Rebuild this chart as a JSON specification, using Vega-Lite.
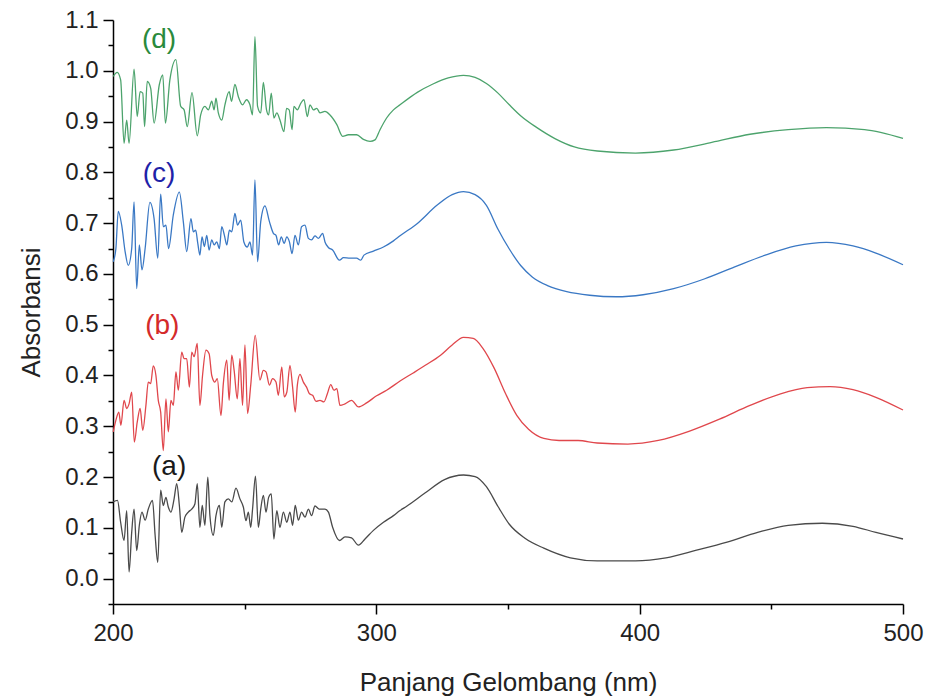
{
  "$schema": "https://vega.github.io/schema/vega-lite/v6.json",
  "width": 790,
  "height": 584,
  "autosize": {"type": "none"},
  "padding": {"left": 113, "top": 20, "right": 25, "bottom": 94},
  "background": "white",
  "config": {
    "view": {"stroke": null},
    "font": "Liberation Sans",
    "axis": {
      "domainColor": "#000000",
      "tickColor": "#000000",
      "domainWidth": 1.5,
      "tickWidth": 1.5,
      "labelColor": "#222222",
      "titleColor": "#222222",
      "labelFont": "Liberation Sans",
      "titleFont": "Liberation Sans",
      "labelFontSize": 24,
      "titleFontSize": 26,
      "titleFontWeight": "normal",
      "grid": false
    }
  },
  "datasets": {
    "spectra": [
      {"s":"a","x":200.1,"y":0.151},{"s":"a","x":201.7,"y":0.154},{"s":"a","x":202.9,"y":0.111},{"s":"a","x":204.2,"y":0.075},{"s":"a","x":205.2,"y":0.134},{"s":"a","x":206.1,"y":0.013},{"s":"a","x":207.1,"y":0.091},{"s":"a","x":208.0,"y":0.137},{"s":"a","x":209.0,"y":0.055},{"s":"a","x":210.0,"y":0.105},{"s":"a","x":211.0,"y":0.131},{"s":"a","x":212.2,"y":0.115},{"s":"a","x":213.4,"y":0.137},{"s":"a","x":215.0,"y":0.154},{"s":"a","x":216.0,"y":0.085},{"s":"a","x":217.0,"y":0.032},{"s":"a","x":218.1,"y":0.174},{"s":"a","x":219.1,"y":0.144},{"s":"a","x":220.1,"y":0.160},{"s":"a","x":221.0,"y":0.141},{"s":"a","x":222.0,"y":0.131},{"s":"a","x":223.2,"y":0.157},{"s":"a","x":224.2,"y":0.187},{"s":"a","x":225.2,"y":0.144},{"s":"a","x":226.1,"y":0.091},{"s":"a","x":227.3,"y":0.121},{"s":"a","x":228.6,"y":0.131},{"s":"a","x":229.9,"y":0.137},{"s":"a","x":231.1,"y":0.147},{"s":"a","x":232.0,"y":0.187},{"s":"a","x":233.0,"y":0.101},{"s":"a","x":233.9,"y":0.144},{"s":"a","x":234.9,"y":0.105},{"s":"a","x":236.0,"y":0.200},{"s":"a","x":236.8,"y":0.124},{"s":"a","x":238.1,"y":0.085},{"s":"a","x":239.1,"y":0.124},{"s":"a","x":240.4,"y":0.144},{"s":"a","x":241.3,"y":0.101},{"s":"a","x":242.5,"y":0.151},{"s":"a","x":243.8,"y":0.157},{"s":"a","x":245.1,"y":0.151},{"s":"a","x":246.7,"y":0.178},{"s":"a","x":248.2,"y":0.157},{"s":"a","x":249.5,"y":0.141},{"s":"a","x":250.5,"y":0.114},{"s":"a","x":251.4,"y":0.131},{"s":"a","x":252.3,"y":0.101},{"s":"a","x":253.0,"y":0.137},{"s":"a","x":254.1,"y":0.202},{"s":"a","x":255.2,"y":0.101},{"s":"a","x":256.1,"y":0.137},{"s":"a","x":257.1,"y":0.164},{"s":"a","x":258.1,"y":0.131},{"s":"a","x":259.1,"y":0.160},{"s":"a","x":260.1,"y":0.167},{"s":"a","x":261.1,"y":0.078},{"s":"a","x":262.2,"y":0.134},{"s":"a","x":263.4,"y":0.101},{"s":"a","x":264.7,"y":0.131},{"s":"a","x":266.0,"y":0.111},{"s":"a","x":267.2,"y":0.131},{"s":"a","x":268.2,"y":0.105},{"s":"a","x":269.2,"y":0.144},{"s":"a","x":270.4,"y":0.115},{"s":"a","x":271.6,"y":0.131},{"s":"a","x":272.9,"y":0.121},{"s":"a","x":274.2,"y":0.137},{"s":"a","x":275.4,"y":0.124},{"s":"a","x":276.7,"y":0.143},{"s":"a","x":278.3,"y":0.137},{"s":"a","x":280.5,"y":0.137},{"s":"a","x":281.8,"y":0.131},{"s":"a","x":283.4,"y":0.101},{"s":"a","x":286.0,"y":0.075},{"s":"a","x":288.1,"y":0.082},{"s":"a","x":290.6,"y":0.080},{"s":"a","x":293.2,"y":0.066},{"s":"a","x":295.7,"y":0.078},{"s":"a","x":298.9,"y":0.095},{"s":"a","x":302.7,"y":0.111},{"s":"a","x":306.5,"y":0.124},{"s":"a","x":309.0,"y":0.134},{"s":"a","x":311.4,"y":0.142},{"s":"a","x":318.6,"y":0.169},{"s":"a","x":325.9,"y":0.195},{"s":"a","x":333.1,"y":0.204},{"s":"a","x":337.5,"y":0.201},{"s":"a","x":341.8,"y":0.181},{"s":"a","x":346.2,"y":0.142},{"s":"a","x":350.5,"y":0.107},{"s":"a","x":356.3,"y":0.080},{"s":"a","x":363.6,"y":0.060},{"s":"a","x":373.7,"y":0.041},{"s":"a","x":383.9,"y":0.035},{"s":"a","x":398.4,"y":0.035},{"s":"a","x":410.0,"y":0.041},{"s":"a","x":421.6,"y":0.056},{"s":"a","x":433.2,"y":0.072},{"s":"a","x":444.8,"y":0.091},{"s":"a","x":456.4,"y":0.105},{"s":"a","x":469.4,"y":0.109},{"s":"a","x":481.0,"y":0.103},{"s":"a","x":489.7,"y":0.091},{"s":"a","x":500.0,"y":0.078},
      {"s":"b","x":200.1,"y":0.289},{"s":"b","x":201.1,"y":0.312},{"s":"b","x":202.2,"y":0.328},{"s":"b","x":203.0,"y":0.302},{"s":"b","x":204.2,"y":0.351},{"s":"b","x":205.2,"y":0.335},{"s":"b","x":206.1,"y":0.344},{"s":"b","x":207.1,"y":0.367},{"s":"b","x":208.1,"y":0.269},{"s":"b","x":209.2,"y":0.308},{"s":"b","x":210.3,"y":0.335},{"s":"b","x":211.3,"y":0.292},{"s":"b","x":212.5,"y":0.341},{"s":"b","x":213.4,"y":0.387},{"s":"b","x":214.3,"y":0.384},{"s":"b","x":215.3,"y":0.419},{"s":"b","x":216.3,"y":0.400},{"s":"b","x":217.2,"y":0.351},{"s":"b","x":218.1,"y":0.328},{"s":"b","x":219.1,"y":0.252},{"s":"b","x":220.1,"y":0.354},{"s":"b","x":221.0,"y":0.289},{"s":"b","x":222.0,"y":0.351},{"s":"b","x":222.9,"y":0.341},{"s":"b","x":223.9,"y":0.407},{"s":"b","x":224.8,"y":0.371},{"s":"b","x":226.1,"y":0.446},{"s":"b","x":227.0,"y":0.433},{"s":"b","x":228.0,"y":0.433},{"s":"b","x":229.0,"y":0.377},{"s":"b","x":229.9,"y":0.446},{"s":"b","x":230.8,"y":0.437},{"s":"b","x":232.0,"y":0.463},{"s":"b","x":233.0,"y":0.341},{"s":"b","x":234.0,"y":0.400},{"s":"b","x":235.3,"y":0.450},{"s":"b","x":236.5,"y":0.443},{"s":"b","x":237.5,"y":0.400},{"s":"b","x":238.7,"y":0.387},{"s":"b","x":239.6,"y":0.394},{"s":"b","x":241.0,"y":0.321},{"s":"b","x":241.9,"y":0.384},{"s":"b","x":243.2,"y":0.430},{"s":"b","x":244.1,"y":0.351},{"s":"b","x":245.1,"y":0.440},{"s":"b","x":246.0,"y":0.410},{"s":"b","x":247.2,"y":0.354},{"s":"b","x":248.2,"y":0.433},{"s":"b","x":249.2,"y":0.341},{"s":"b","x":250.1,"y":0.460},{"s":"b","x":251.1,"y":0.325},{"s":"b","x":252.3,"y":0.381},{"s":"b","x":254.0,"y":0.479},{"s":"b","x":255.8,"y":0.391},{"s":"b","x":257.1,"y":0.410},{"s":"b","x":258.1,"y":0.407},{"s":"b","x":259.4,"y":0.381},{"s":"b","x":260.6,"y":0.394},{"s":"b","x":261.9,"y":0.387},{"s":"b","x":262.8,"y":0.361},{"s":"b","x":264.1,"y":0.417},{"s":"b","x":265.0,"y":0.358},{"s":"b","x":266.0,"y":0.367},{"s":"b","x":267.2,"y":0.420},{"s":"b","x":268.2,"y":0.377},{"s":"b","x":269.2,"y":0.328},{"s":"b","x":270.0,"y":0.381},{"s":"b","x":271.0,"y":0.402},{"s":"b","x":272.3,"y":0.387},{"s":"b","x":273.5,"y":0.377},{"s":"b","x":274.6,"y":0.364},{"s":"b","x":275.8,"y":0.361},{"s":"b","x":277.1,"y":0.349},{"s":"b","x":278.6,"y":0.351},{"s":"b","x":280.1,"y":0.348},{"s":"b","x":281.4,"y":0.364},{"s":"b","x":282.7,"y":0.382},{"s":"b","x":283.9,"y":0.371},{"s":"b","x":285.0,"y":0.374},{"s":"b","x":286.2,"y":0.341},{"s":"b","x":288.1,"y":0.344},{"s":"b","x":290.6,"y":0.351},{"s":"b","x":293.2,"y":0.338},{"s":"b","x":296.3,"y":0.346},{"s":"b","x":300.1,"y":0.360},{"s":"b","x":303.9,"y":0.371},{"s":"b","x":309.0,"y":0.389},{"s":"b","x":314.0,"y":0.405},{"s":"b","x":318.6,"y":0.420},{"s":"b","x":324.4,"y":0.440},{"s":"b","x":328.8,"y":0.460},{"s":"b","x":333.1,"y":0.475},{"s":"b","x":336.8,"y":0.473},{"s":"b","x":340.4,"y":0.454},{"s":"b","x":344.7,"y":0.415},{"s":"b","x":349.1,"y":0.364},{"s":"b","x":353.4,"y":0.321},{"s":"b","x":357.8,"y":0.294},{"s":"b","x":363.6,"y":0.276},{"s":"b","x":369.4,"y":0.272},{"s":"b","x":376.6,"y":0.272},{"s":"b","x":383.9,"y":0.267},{"s":"b","x":395.5,"y":0.265},{"s":"b","x":407.1,"y":0.272},{"s":"b","x":418.7,"y":0.290},{"s":"b","x":430.3,"y":0.314},{"s":"b","x":441.9,"y":0.341},{"s":"b","x":453.5,"y":0.364},{"s":"b","x":463.6,"y":0.376},{"s":"b","x":472.3,"y":0.378},{"s":"b","x":481.0,"y":0.372},{"s":"b","x":489.7,"y":0.357},{"s":"b","x":500.0,"y":0.332},
      {"s":"c","x":200.1,"y":0.624},{"s":"c","x":201.1,"y":0.650},{"s":"c","x":202.0,"y":0.723},{"s":"c","x":203.3,"y":0.696},{"s":"c","x":204.6,"y":0.644},{"s":"c","x":205.8,"y":0.617},{"s":"c","x":207.1,"y":0.650},{"s":"c","x":208.0,"y":0.742},{"s":"c","x":209.0,"y":0.571},{"s":"c","x":210.0,"y":0.657},{"s":"c","x":211.0,"y":0.608},{"s":"c","x":212.2,"y":0.650},{"s":"c","x":214.0,"y":0.741},{"s":"c","x":215.6,"y":0.709},{"s":"c","x":217.0,"y":0.631},{"s":"c","x":218.1,"y":0.757},{"s":"c","x":219.1,"y":0.693},{"s":"c","x":220.1,"y":0.696},{"s":"c","x":221.1,"y":0.650},{"s":"c","x":222.9,"y":0.716},{"s":"c","x":225.2,"y":0.761},{"s":"c","x":226.7,"y":0.703},{"s":"c","x":228.0,"y":0.644},{"s":"c","x":229.6,"y":0.709},{"s":"c","x":230.5,"y":0.683},{"s":"c","x":231.4,"y":0.686},{"s":"c","x":232.2,"y":0.660},{"s":"c","x":233.0,"y":0.637},{"s":"c","x":233.8,"y":0.673},{"s":"c","x":234.7,"y":0.654},{"s":"c","x":235.6,"y":0.676},{"s":"c","x":236.5,"y":0.647},{"s":"c","x":237.5,"y":0.667},{"s":"c","x":238.4,"y":0.657},{"s":"c","x":239.4,"y":0.663},{"s":"c","x":240.4,"y":0.650},{"s":"c","x":241.3,"y":0.693},{"s":"c","x":242.3,"y":0.676},{"s":"c","x":243.2,"y":0.657},{"s":"c","x":244.2,"y":0.686},{"s":"c","x":245.1,"y":0.683},{"s":"c","x":246.3,"y":0.719},{"s":"c","x":247.3,"y":0.696},{"s":"c","x":248.5,"y":0.706},{"s":"c","x":249.7,"y":0.663},{"s":"c","x":251.0,"y":0.653},{"s":"c","x":252.0,"y":0.663},{"s":"c","x":253.0,"y":0.637},{"s":"c","x":253.9,"y":0.785},{"s":"c","x":254.9,"y":0.624},{"s":"c","x":256.1,"y":0.703},{"s":"c","x":257.7,"y":0.734},{"s":"c","x":259.4,"y":0.703},{"s":"c","x":260.9,"y":0.680},{"s":"c","x":261.9,"y":0.676},{"s":"c","x":262.9,"y":0.657},{"s":"c","x":263.9,"y":0.673},{"s":"c","x":265.0,"y":0.660},{"s":"c","x":266.0,"y":0.673},{"s":"c","x":267.0,"y":0.663},{"s":"c","x":268.0,"y":0.640},{"s":"c","x":269.1,"y":0.676},{"s":"c","x":270.4,"y":0.657},{"s":"c","x":271.6,"y":0.693},{"s":"c","x":272.9,"y":0.696},{"s":"c","x":274.2,"y":0.670},{"s":"c","x":275.4,"y":0.667},{"s":"c","x":276.7,"y":0.675},{"s":"c","x":278.0,"y":0.670},{"s":"c","x":279.6,"y":0.680},{"s":"c","x":280.5,"y":0.663},{"s":"c","x":281.8,"y":0.652},{"s":"c","x":283.4,"y":0.647},{"s":"c","x":286.0,"y":0.627},{"s":"c","x":287.5,"y":0.632},{"s":"c","x":290.0,"y":0.631},{"s":"c","x":292.5,"y":0.631},{"s":"c","x":294.1,"y":0.627},{"s":"c","x":295.3,"y":0.637},{"s":"c","x":298.9,"y":0.645},{"s":"c","x":302.7,"y":0.653},{"s":"c","x":306.5,"y":0.665},{"s":"c","x":309.0,"y":0.675},{"s":"c","x":315.7,"y":0.700},{"s":"c","x":323.0,"y":0.735},{"s":"c","x":328.8,"y":0.756},{"s":"c","x":333.1,"y":0.762},{"s":"c","x":337.5,"y":0.756},{"s":"c","x":341.8,"y":0.735},{"s":"c","x":346.2,"y":0.688},{"s":"c","x":350.5,"y":0.649},{"s":"c","x":354.9,"y":0.616},{"s":"c","x":359.2,"y":0.594},{"s":"c","x":365.0,"y":0.577},{"s":"c","x":372.3,"y":0.565},{"s":"c","x":381.0,"y":0.558},{"s":"c","x":391.1,"y":0.555},{"s":"c","x":401.3,"y":0.559},{"s":"c","x":412.9,"y":0.571},{"s":"c","x":424.5,"y":0.590},{"s":"c","x":436.1,"y":0.614},{"s":"c","x":447.7,"y":0.637},{"s":"c","x":459.3,"y":0.655},{"s":"c","x":470.9,"y":0.662},{"s":"c","x":481.0,"y":0.655},{"s":"c","x":489.7,"y":0.641},{"s":"c","x":500.0,"y":0.618},
      {"s":"d","x":200.1,"y":0.989},{"s":"d","x":201.6,"y":0.997},{"s":"d","x":202.9,"y":0.982},{"s":"d","x":204.2,"y":0.857},{"s":"d","x":205.2,"y":0.903},{"s":"d","x":206.1,"y":0.857},{"s":"d","x":208.0,"y":1.003},{"s":"d","x":209.2,"y":0.910},{"s":"d","x":210.3,"y":0.959},{"s":"d","x":211.3,"y":0.956},{"s":"d","x":212.0,"y":0.890},{"s":"d","x":213.0,"y":0.979},{"s":"d","x":214.3,"y":0.966},{"s":"d","x":215.6,"y":0.897},{"s":"d","x":217.6,"y":0.973},{"s":"d","x":218.9,"y":0.992},{"s":"d","x":219.9,"y":0.897},{"s":"d","x":221.6,"y":0.982},{"s":"d","x":223.9,"y":1.022},{"s":"d","x":225.7,"y":0.930},{"s":"d","x":227.0,"y":0.923},{"s":"d","x":228.2,"y":0.890},{"s":"d","x":230.0,"y":0.957},{"s":"d","x":232.0,"y":0.872},{"s":"d","x":233.3,"y":0.913},{"s":"d","x":234.9,"y":0.930},{"s":"d","x":236.2,"y":0.923},{"s":"d","x":237.5,"y":0.940},{"s":"d","x":238.4,"y":0.923},{"s":"d","x":239.1,"y":0.946},{"s":"d","x":240.0,"y":0.917},{"s":"d","x":241.3,"y":0.903},{"s":"d","x":242.5,"y":0.933},{"s":"d","x":244.1,"y":0.959},{"s":"d","x":245.0,"y":0.940},{"s":"d","x":246.3,"y":0.973},{"s":"d","x":247.6,"y":0.949},{"s":"d","x":249.2,"y":0.933},{"s":"d","x":250.7,"y":0.943},{"s":"d","x":252.0,"y":0.933},{"s":"d","x":253.0,"y":0.913},{"s":"d","x":253.9,"y":1.067},{"s":"d","x":254.9,"y":0.930},{"s":"d","x":256.1,"y":0.917},{"s":"d","x":257.1,"y":0.977},{"s":"d","x":258.3,"y":0.923},{"s":"d","x":259.1,"y":0.913},{"s":"d","x":260.1,"y":0.956},{"s":"d","x":261.1,"y":0.907},{"s":"d","x":262.2,"y":0.917},{"s":"d","x":263.4,"y":0.903},{"s":"d","x":264.9,"y":0.880},{"s":"d","x":265.9,"y":0.926},{"s":"d","x":266.9,"y":0.923},{"s":"d","x":268.0,"y":0.884},{"s":"d","x":268.7,"y":0.930},{"s":"d","x":270.0,"y":0.923},{"s":"d","x":271.3,"y":0.936},{"s":"d","x":272.5,"y":0.943},{"s":"d","x":273.8,"y":0.910},{"s":"d","x":274.8,"y":0.933},{"s":"d","x":276.1,"y":0.923},{"s":"d","x":277.4,"y":0.926},{"s":"d","x":278.6,"y":0.917},{"s":"d","x":280.5,"y":0.920},{"s":"d","x":282.4,"y":0.913},{"s":"d","x":285.0,"y":0.894},{"s":"d","x":287.2,"y":0.871},{"s":"d","x":289.4,"y":0.874},{"s":"d","x":292.5,"y":0.874},{"s":"d","x":295.1,"y":0.865},{"s":"d","x":297.6,"y":0.861},{"s":"d","x":299.5,"y":0.864},{"s":"d","x":301.4,"y":0.884},{"s":"d","x":303.9,"y":0.907},{"s":"d","x":306.5,"y":0.923},{"s":"d","x":309.0,"y":0.933},{"s":"d","x":315.7,"y":0.958},{"s":"d","x":321.5,"y":0.974},{"s":"d","x":327.3,"y":0.986},{"s":"d","x":333.1,"y":0.991},{"s":"d","x":337.5,"y":0.987},{"s":"d","x":341.8,"y":0.975},{"s":"d","x":346.2,"y":0.956},{"s":"d","x":350.5,"y":0.933},{"s":"d","x":354.9,"y":0.911},{"s":"d","x":360.7,"y":0.889},{"s":"d","x":368.0,"y":0.866},{"s":"d","x":375.2,"y":0.850},{"s":"d","x":383.9,"y":0.842},{"s":"d","x":398.4,"y":0.838},{"s":"d","x":412.9,"y":0.844},{"s":"d","x":427.4,"y":0.859},{"s":"d","x":441.9,"y":0.875},{"s":"d","x":456.4,"y":0.884},{"s":"d","x":470.9,"y":0.888},{"s":"d","x":485.4,"y":0.884},{"s":"d","x":500.0,"y":0.867}
    ],
    "labels": [
      {"t":"(a)","x":221.3,"y":0.219},
      {"t":"(b)","x":218.7,"y":0.497},
      {"t":"(c)","x":217.5,"y":0.797},
      {"t":"(d)","x":217.5,"y":1.061}
    ]
  },
  "layer": [
    {
      "data": {"name": "spectra"},
      "mark": {"type": "line", "strokeWidth": 1.3, "interpolate": "monotone"},
      "encoding": {
        "x": {
          "field": "x", "type": "quantitative",
          "scale": {"domain": [200, 500], "nice": false, "zero": false},
          "axis": {"orient": "bottom", "values": [200, 300, 400, 500], "tickSize": 10, "labelPadding": 7, "labelFlush": false, "title": "Panjang Gelombang (nm)", "titlePadding": 24}
        },
        "y": {
          "field": "y", "type": "quantitative",
          "scale": {"domain": [-0.05, 1.1], "nice": false, "zero": false},
          "axis": {"orient": "left", "values": [0, 0.1, 0.2, 0.3, 0.4, 0.5, 0.6, 0.7, 0.8, 0.9, 1.0, 1.1], "format": ".1f", "tickSize": 10, "labelPadding": 5, "title": "Absorbansi", "titlePadding": 20}
        },
        "color": {
          "field": "s", "type": "nominal",
          "scale": {"domain": ["a", "b", "c", "d"], "range": ["#4a4a4a", "#e0474c", "#3a78c4", "#4ca36c"]},
          "legend": null
        }
      }
    },
    {
      "data": {"name": "labels"},
      "mark": {"type": "text", "fontSize": 28, "font": "Liberation Sans", "align": "center", "baseline": "middle"},
      "encoding": {
        "x": {
          "field": "x", "type": "quantitative",
          "scale": {"domain": [200, 500], "nice": false, "zero": false},
          "axis": {"orient": "bottom", "values": [250, 350, 450], "tickSize": 5, "labels": false, "domain": false, "title": null}
        },
        "y": {
          "field": "y", "type": "quantitative",
          "scale": {"domain": [-0.05, 1.1], "nice": false, "zero": false},
          "axis": {"orient": "left", "values": [-0.05, 0.05, 0.15, 0.25, 0.35, 0.45, 0.55, 0.65, 0.75, 0.85, 0.95, 1.05], "tickSize": 5, "labels": false, "domain": false, "title": null}
        },
        "text": {"field": "t", "type": "nominal"},
        "color": {
          "field": "t", "type": "nominal",
          "scale": {"domain": ["(a)", "(b)", "(c)", "(d)"], "range": ["#1a1a1a", "#d42a2a", "#1e22a8", "#2a8a3c"]},
          "legend": null
        }
      }
    }
  ],
  "resolve": {"axis": {"x": "independent", "y": "independent"}, "scale": {"color": "independent"}}
}
